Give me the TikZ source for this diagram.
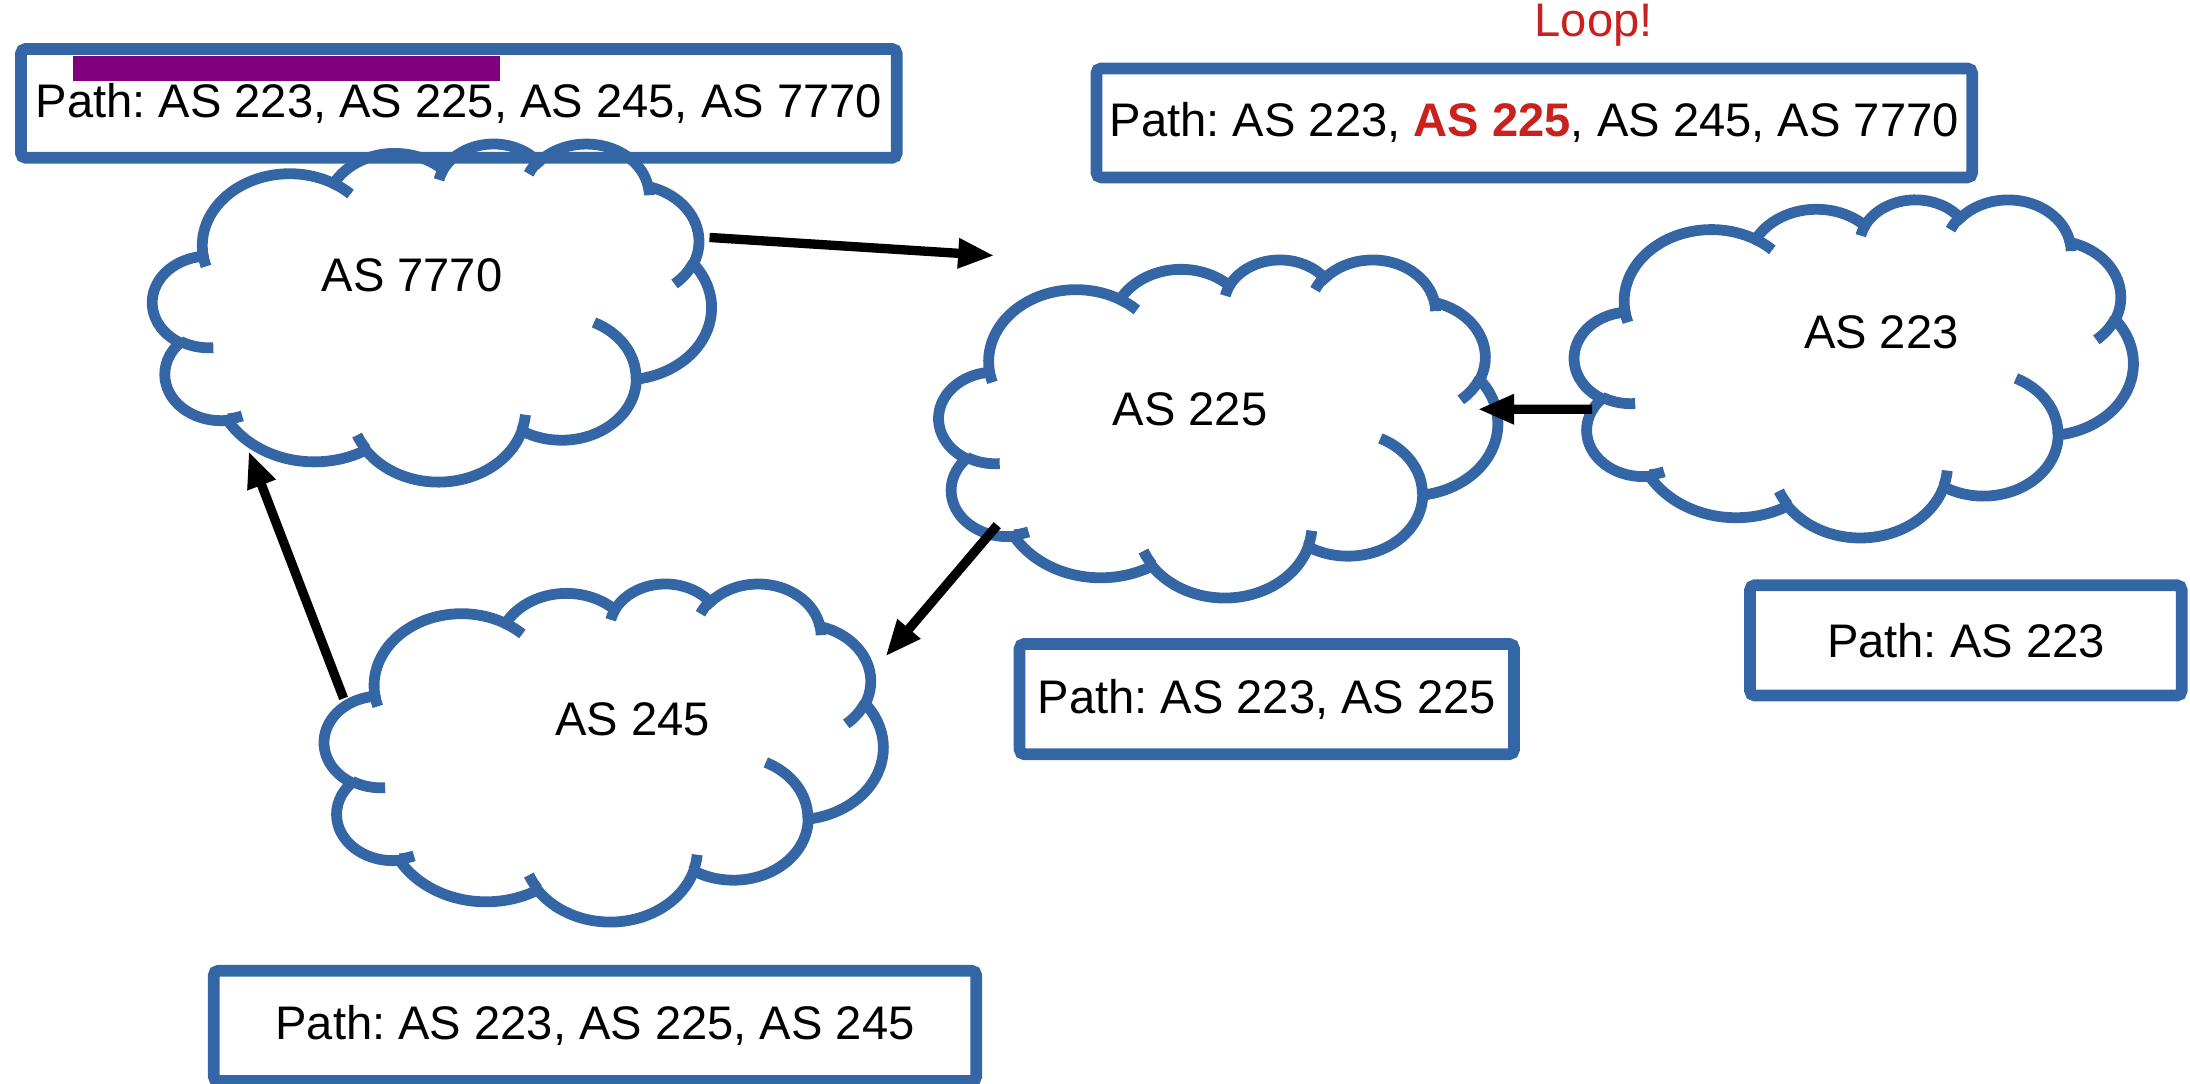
\documentclass[tikz,border=0pt]{standalone}
\usepackage{fontspec}
\setmainfont{Liberation Sans}
\usepackage{tikz}
\usepackage{xcolor}
\usetikzlibrary{arrows.meta}
\definecolor{as-blue}{HTML}{3465A4}
\definecolor{loop-red}{HTML}{C9211E}
\definecolor{bar-purple}{HTML}{800080}
\frenchspacing
\tikzset{
    path-box/.style = {draw=as-blue, line width=2.4pt, rectangle, rounded corners=1pt, inner sep=0pt, font=\fontsize{9.6}{11}\selectfont},
    as-cloud/.style = {rectangle, minimum width=4cm, minimum height=2.42cm, inner sep=0pt},
    as-label/.style = {font=\fontsize{9.6}{11}\selectfont},
    cloud-line/.style = {draw=as-blue, line width=2.2pt},
    link-arrow/.style = {line width=1.9pt, -{Triangle[length=0.26cm, width=0.2cm]}},
}
\newcommand{\officearc}[4]{arc[start angle={atan2((#1)*sin(#3),(#2)*cos(#3))}, delta angle={(#4)+mod(atan2((#1)*sin((#3)+(#4)),(#2)*cos((#3)+(#4)))-atan2((#1)*sin(#3),(#2)*cos(#3))-(#4)+540,360)-180}, x radius=#1, y radius=#2]}
\newcommand{\ascloudline}[1]{%
  \begin{scope}[shift={(#1.north west)}, xscale=4/43.2, yscale=-2.42/43.2]
    \draw[cloud-line] (3.9,14.37) \officearc{6.753}{9.19}{-190.4875}{123.7805}
      \officearc{5.333}{7.267}{-144.1024}{89.9452}
      \officearc{4.365}{5.945}{-145.8079}{99.723}
      \officearc{4.857}{6.595}{-130.9861}{117.2417}
      \officearc{5.333}{7.273}{-78.7089}{109.0269}
      \officearc{6.775}{9.22}{-46.2673}{130.269}
      \officearc{5.785}{7.867}{0.625}{114.0333}
      \officearc{6.752}{9.215}{22.4516}{115.1726}
      \officearc{7.72}{10.543}{66.2426}{75.711}
      \officearc{4.36}{5.918}{-274.9421}{146.7356}
      \officearc{4.345}{5.945}{-246.8285}{152.5189} -- cycle;
    \draw[cloud-line] (4.693,26.177) \officearc{4.345}{5.945}{86.742}{26.4295}
      (6.928,34.899) \officearc{4.36}{5.918}{73.6105}{11.4475}
      (16.478,39.09) \officearc{6.752}{9.215}{137.6242}{14.0811}
      (28.827,34.751) \officearc{6.752}{9.215}{6.4533}{15.9984}
      (34.129,22.954) \officearc{5.785}{7.867}{-70.2924}{70.9174}
      (41.798,15.354) \officearc{5.333}{7.273}{30.318}{27.7515}
      (38.324,5.426) \officearc{4.857}{6.595}{-13.7443}{14.8589}
      (29.078,3.952) \officearc{4.857}{6.595}{-149.1815}{18.1954}
      (22.141,4.72) \officearc{4.365}{5.945}{-163.4943}{17.6864}
      (14,5.192) \officearc{6.753}{9.19}{-66.707}{12.3194}
      (4.127,15.789) \officearc{6.753}{9.19}{157.6544}{11.8582};
  \end{scope}}

\begin{document}
\begin{tikzpicture}
\useasboundingbox (0,0) rectangle (15.68,-7.76);
\fill[bar-purple] (0.52,-0.40) rectangle (3.58,-0.58);
\node[path-box, minimum width=6.27cm, minimum height=0.78cm] (path7770) at (3.285,-0.74) {Path: AS 223, AS 225, AS 245, AS 7770};
\node[path-box, minimum width=6.27cm, minimum height=0.78cm] (pathloop) at (10.985,-0.88) {Path: AS 223, \textcolor{loop-red}{\textbf{AS 225}}, AS 245, AS 7770};
\node[as-label, text=loop-red] (loop) at (11.41,-0.18) {Loop!};
\node[path-box, minimum width=3.09cm, minimum height=0.79cm] (path223) at (14.075,-4.585) {Path: AS 223};
\node[path-box, minimum width=3.54cm, minimum height=0.79cm] (path225) at (9.07,-5.005) {Path: AS 223, AS 225};
\node[path-box, minimum width=5.46cm, minimum height=0.79cm] (path245) at (4.26,-7.345) {Path: AS 223, AS 225, AS 245};

\node[as-cloud] (c7770) at (3.10,-2.24) {};
\node[as-cloud] (c225) at (8.73,-3.07) {};
\node[as-cloud] (c223) at (13.28,-2.64) {};
\node[as-cloud] (c245) at (4.33,-5.39) {};
\ascloudline{c7770}
\ascloudline{c225}
\ascloudline{c223}
\ascloudline{c245}
\node[as-label] (t7770) at (2.95,-1.97) {AS 7770};
\node[as-label] (t225) at (8.52,-2.93) {AS 225};
\node[as-label] (t223) at (13.47,-2.38) {AS 223};
\node[as-label] (t245) at (4.53,-5.15) {AS 245};

\draw[link-arrow] ([xshift=1.98cm,yshift=0.54cm]c7770.center) -- ([xshift=-1.61cm,yshift=1.24cm]c225.center);
\draw[link-arrow] ([xshift=-1.88cm,yshift=-0.29cm]c223.center) -- ([xshift=1.85cm,yshift=0.14cm]c225.center);
\draw[link-arrow] ([xshift=-1.59cm,yshift=-0.69cm]c225.center) -- ([xshift=2.01cm,yshift=0.69cm]c245.center);
\draw[link-arrow] ([xshift=-1.87cm,yshift=0.39cm]c245.center) -- ([xshift=-1.32cm,yshift=-0.99cm]c7770.center);
\end{tikzpicture}
\end{document}
